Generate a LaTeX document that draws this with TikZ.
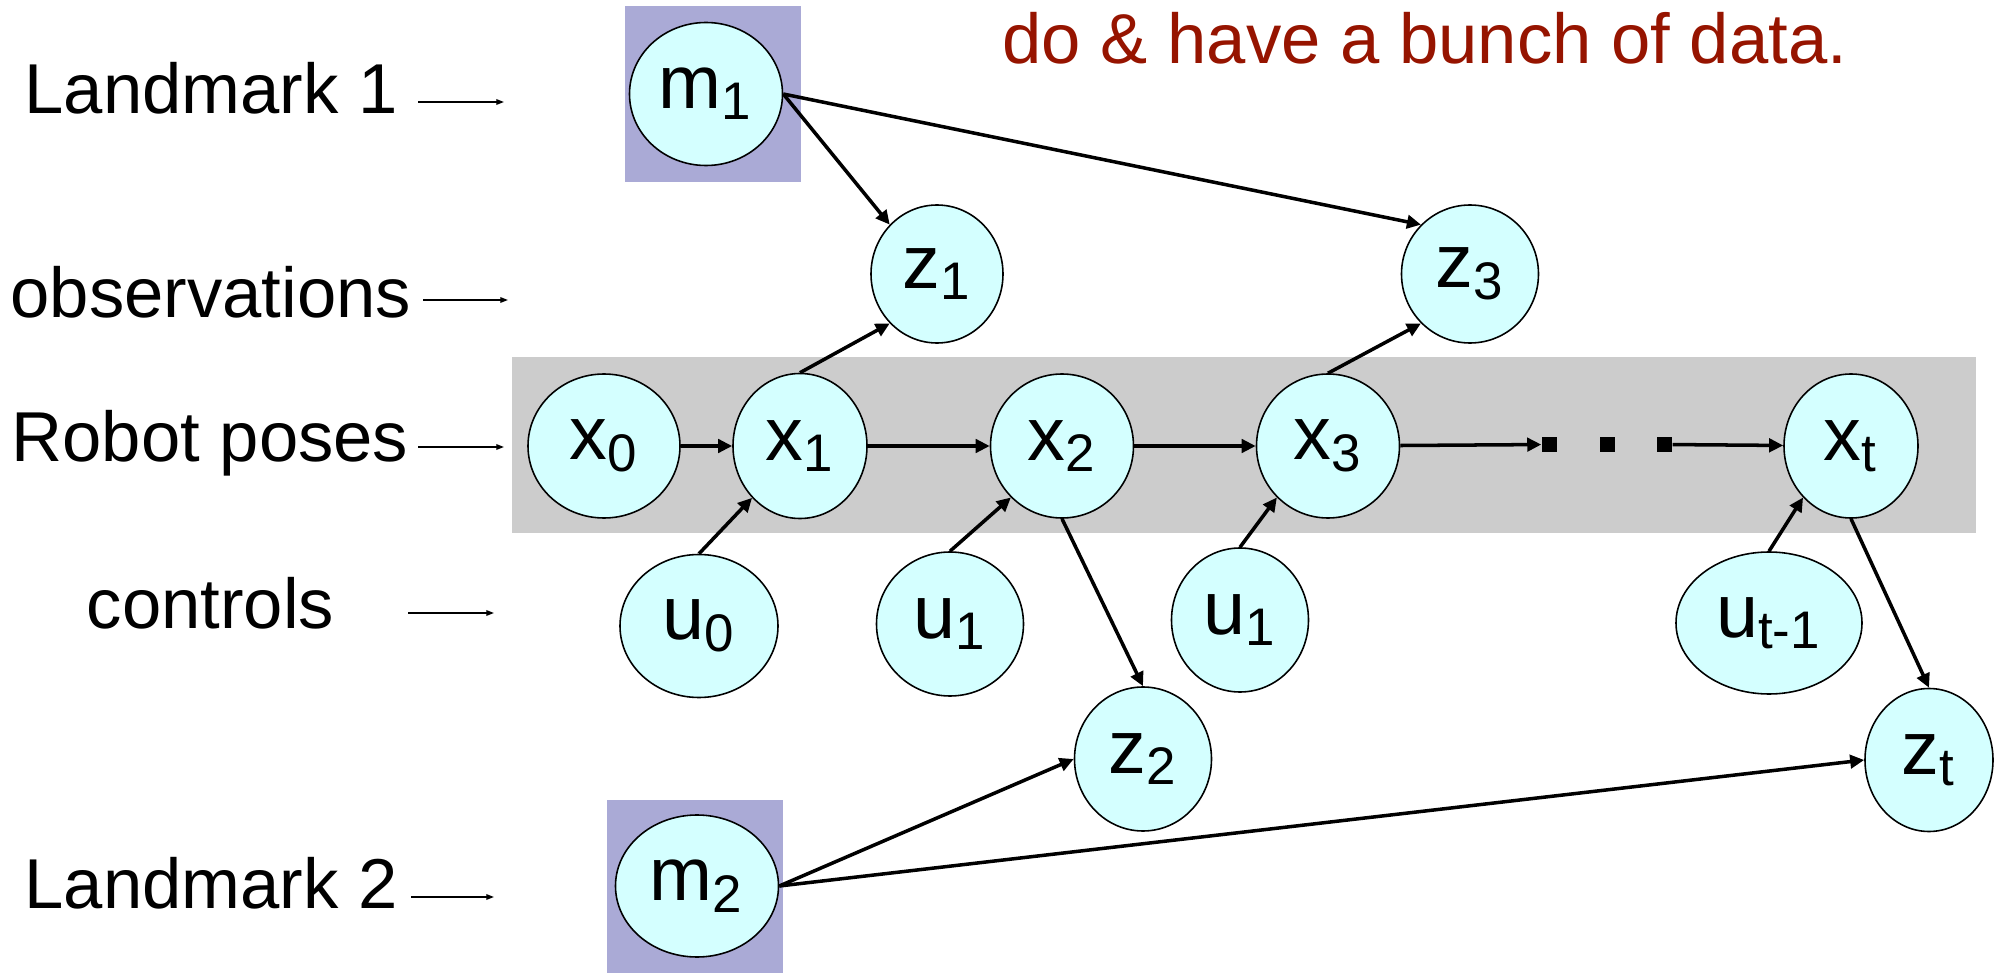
\documentclass[tikz,border=0pt]{standalone}
\usepackage{fontspec}
\setmainfont{Liberation Sans}
\usetikzlibrary{arrows.meta,positioning,shapes.geometric}
\definecolor{nodefill}{RGB}{212,255,255}
\definecolor{lmfill}{RGB}{170,170,214}
\definecolor{bandgray}{RGB}{204,204,204}
\definecolor{notered}{RGB}{150,20,0}

\begin{document}
\begin{tikzpicture}[font=\fontsize{20.1}{24}\selectfont,
 nd/.style={draw,ellipse,fill=nodefill,line width=0.45pt,inner sep=0pt,minimum height=1.44cm,font=\fontsize{21.5}{24}\selectfont},
 lbl/.style={anchor=base west,inner sep=0pt},
 lblarr/.style={-{Triangle[length=2.2pt,width=1.6pt]},line width=0.4pt},
 edge/.style={-{Triangle[length=4pt,width=3.8pt]},line width=1pt},
 sq/.style={fill=black,inner sep=0pt,minimum size=0.15cm}]
\useasboundingbox (0,0) rectangle (20.08,-9.73);
\fill[bandgray] (5.12,-3.57) rectangle (19.76,-5.33);
\fill[lmfill] (6.25,-0.06) rectangle (8.01,-1.82);
\fill[lmfill] (6.07,-8.00) rectangle (7.83,-9.73);
\node[lbl] (lm1) at (0.24,-1.14) {Landmark 1};
\node[lbl] (obs) at (0.10,-3.18) {observations};
\node[lbl] (rob) at (0.11,-4.62) {Robot poses};
\node[lbl] (ctl) at (0.86,-6.29) {controls};
\node[lbl] (lm2) at (0.24,-9.08) {Landmark 2};
\node[lbl,text=notered] (note) at (10.02,-0.64) {do \& have a bunch of data.};
\coordinate (lm1a) at (4.18,-1.02);
\coordinate (lm1b) at (5.04,-1.02);
\coordinate (obsa) at (4.23,-3.00);
\coordinate (obsb) at (5.08,-3.00);
\coordinate (roba) at (4.18,-4.47);
\coordinate (robb) at (5.04,-4.47);
\coordinate (ctla) at (4.08,-6.13);
\coordinate (ctlb) at (4.94,-6.13);
\coordinate (lm2a) at (4.11,-8.97);
\coordinate (lm2b) at (4.94,-8.97);
\node[nd,minimum width=1.53cm,minimum height=1.43cm] (m1) at (7.06,-0.94) {m\textsubscript{1}};
\node[nd,minimum width=1.32cm,minimum height=1.38cm] (z1) at (9.37,-2.74) {z\textsubscript{1}};
\node[nd,minimum width=1.37cm,minimum height=1.38cm] (z3) at (14.70,-2.74) {z\textsubscript{3}};
\node[nd,minimum width=1.52cm] (x0) at (6.04,-4.46) {x\textsubscript{0}};
\node[nd,minimum width=1.34cm,minimum height=1.45cm] (x1) at (8.00,-4.46) {x\textsubscript{1}};
\node[nd,minimum width=1.43cm] (x2) at (10.62,-4.46) {x\textsubscript{2}};
\node[nd,minimum width=1.43cm] (x3) at (13.28,-4.46) {x\textsubscript{3}};
\node[sq] (d1) at (15.495,-4.445) {};
\node[sq] (d2) at (16.075,-4.445) {};
\node[sq] (d3) at (16.645,-4.445) {};
\node[nd,minimum width=1.34cm] (xt) at (18.51,-4.46) {x\textsubscript{t}};
\node[nd,minimum width=1.58cm,minimum height=1.43cm] (u0) at (6.99,-6.26) {u\textsubscript{0}};
\node[nd,minimum width=1.47cm] (u1a) at (9.50,-6.24) {u\textsubscript{1}};
\node[nd,minimum width=1.37cm] (u1b) at (12.40,-6.20) {u\textsubscript{1}};
\node[nd,minimum width=1.86cm,minimum height=1.42cm] (ut) at (17.69,-6.23) {u\textsubscript{t-1}};
\node[nd,minimum width=1.37cm] (z2) at (11.43,-7.59) {z\textsubscript{2}};
\node[nd,minimum width=1.28cm,minimum height=1.43cm] (zt) at (19.29,-7.60) {z\textsubscript{t}};
\node[nd,minimum width=1.63cm,minimum height=1.42cm] (m2) at (6.97,-8.86) {m\textsubscript{2}};
\draw[lblarr] (lm1a) -- (lm1b);
\draw[lblarr] (obsa) -- (obsb);
\draw[lblarr] (roba) -- (robb);
\draw[lblarr] (ctla) -- (ctlb);
\draw[lblarr] (lm2a) -- (lm2b);
\draw[edge] (m1.east) -- (z1.north west);
\draw[edge] (m1.east) -- (z3.north west);
\draw[edge] (x0) -- (x1);
\draw[edge] (x1) -- (x2);
\draw[edge] (x2) -- (x3);
\draw[edge] (x3) -- (d1);
\draw[edge] (d3) -- (xt);
\draw[edge] (x1.north) -- (z1.south west);
\draw[edge] (x3.north) -- (z3.south west);
\draw[edge] (u0.north) -- (x1.south west);
\draw[edge] (u1a.north) -- (x2.south west);
\draw[edge] (u1b.north) -- (x3.south west);
\draw[edge] (ut.north) -- (xt.south west);
\draw[edge] (x2.south) -- (z2.north);
\draw[edge] (xt.south) -- (zt.north);
\draw[edge] (m2.east) -- (z2.west);
\draw[edge] (m2.east) -- (zt.west);
\end{tikzpicture}
\end{document}
